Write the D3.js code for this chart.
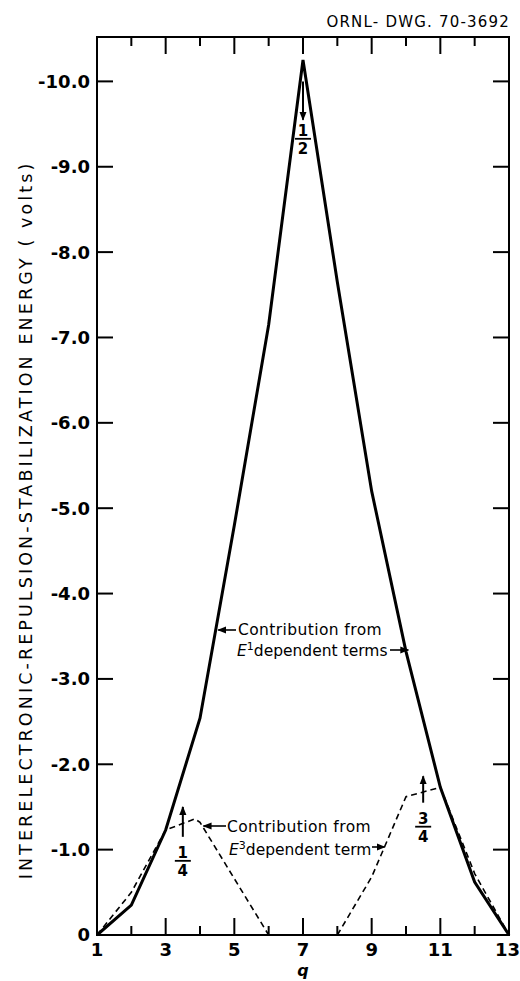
<!DOCTYPE html>
<html>
<head>
<meta charset="utf-8">
<script src="https://cdn.jsdelivr.net/npm/d3@7"></script>
<style>
  html, body { margin: 0; padding: 0; background: #fff; }
  svg { display: block; }
  text { font-family: "DejaVu Sans", "Noto Sans", sans-serif; fill: #000; }
</style>
</head>
<body>
<div id="chart"></div>
<script>
// q values along the horizontal axis
const qValues = [1, 2, 3, 4, 5, 6, 7, 8, 9, 10, 11, 12, 13];
// magnitude of stabilization energy (volts, plotted as negative) from E^1 dependent terms
const e1Terms = [0, 0.35, 1.23, 2.54, 4.8, 7.15, 10.25, 7.65, 5.2, 3.32, 1.73, 0.62, 0];
// contribution from the E^3 dependent term (null = gap between q = 6 and q = 8)
const e3Q = [1, 2, 3, 3.85, 4, 6, 7, 8, 9, 10, 11, 12, 13];
const e3Terms = [0, 0.5, 1.23, 1.36, 1.32, 0, null, 0, 0.68, 1.62, 1.73, 0.72, 0];
// axis ticks
const xTickLabels = [1, 3, 5, 7, 9, 11, 13];
const yTickValues = [0, 1, 2, 3, 4, 5, 6, 7, 8, 9, 10];
const yTickLabels = ["0", "-1.0", "-2.0", "-3.0", "-4.0", "-5.0", "-6.0", "-7.0", "-8.0", "-9.0", "-10.0"];
// fractional-occupation markers: q position, arrow tail and head (volts), fraction
const markQ = [3.5, 7, 10.5];
const markTail = [1.15, 10.0, 1.55];
const markHead = [1.5, 9.55, 1.86];
const markNum = ["1", "1", "3"];
const markDen = ["4", "2", "4"];

const W = 520, H = 981;
const mLeft = 97, mRight = 509, mTop = 37, mBottom = 935;

const svg = d3.select("#chart").append("svg")
  .attr("width", W).attr("height", H);

const x = d3.scaleLinear().domain([1, 13]).range([mLeft, mRight]);
const y = d3.scaleLinear().domain([0, 10.52]).range([mBottom, mTop]);

// arrowhead marker
const defs = svg.append("defs");
defs.append("marker")
  .attr("id", "head")
  .attr("viewBox", "0 0 10 10")
  .attr("refX", 9).attr("refY", 5)
  .attr("markerWidth", 9).attr("markerHeight", 9)
  .attr("markerUnits", "userSpaceOnUse")
  .attr("orient", "auto")
  .append("path").attr("d", "M0,1 L10,5 L0,9 Z").attr("fill", "#000");

// frame
svg.append("rect")
  .attr("x", mLeft).attr("y", mTop)
  .attr("width", mRight - mLeft).attr("height", mBottom - mTop)
  .attr("fill", "none").attr("stroke", "#000").attr("stroke-width", 2);

// inward ticks on all four sides
const g = svg.append("g").attr("stroke", "#000").attr("stroke-width", 2);
qValues.slice(1, -1).forEach(q => {
  const long = q % 2 === 1;
  g.append("line").attr("x1", x(q)).attr("x2", x(q))
    .attr("y1", mBottom).attr("y2", mBottom - (long ? 17 : 9));
  g.append("line").attr("x1", x(q)).attr("x2", x(q))
    .attr("y1", mTop).attr("y2", mTop + (long ? 17 : 9));
});
yTickValues.slice(1).forEach(v => {
  g.append("line").attr("x1", mLeft).attr("x2", mLeft + 16)
    .attr("y1", y(v)).attr("y2", y(v));
  g.append("line").attr("x1", mRight).attr("x2", mRight - 16)
    .attr("y1", y(v)).attr("y2", y(v));
});

// tick labels
svg.append("g").selectAll("text").data(yTickValues).join("text")
  .attr("x", mLeft - 7).attr("y", v => y(v))
  .attr("dy", "0.36em").attr("text-anchor", "end")
  .attr("font-size", 18).attr("font-weight", "bold")
  .text((v, i) => yTickLabels[i]);

svg.append("g").selectAll("text").data(xTickLabels).join("text")
  .attr("x", q => x(q)).attr("y", 956)
  .attr("dx", q => q === 13 ? -1.5 : 0)
  .attr("text-anchor", "middle")
  .attr("font-family", "'Liberation Sans', Arial, sans-serif")
  .attr("font-size", 18).attr("font-weight", "bold")
  .text(q => q);

// axis titles
svg.append("text")
  .attr("x", x(7)).attr("y", 976)
  .attr("text-anchor", "middle")
  .attr("font-size", 16).attr("font-weight", "bold").attr("font-style", "italic")
  .text("q");

svg.append("text")
  .attr("transform", `translate(32,${(mTop + mBottom) / 2 + 34}) rotate(-90)`)
  .attr("text-anchor", "middle")
  .attr("font-size", 17.5).attr("letter-spacing", 3.1)
  .text("INTERELECTRONIC-REPULSION-STABILIZATION ENERGY  ( volts)");

svg.append("text")
  .attr("x", 510).attr("y", 27)
  .attr("text-anchor", "end")
  .attr("font-size", 15).attr("letter-spacing", 1.2)
  .text("ORNL- DWG. 70-3692");

// curves
const line = d3.line()
  .defined(d => d[1] != null)
  .x(d => x(d[0])).y(d => y(d[1]));

svg.append("path")
  .datum(qValues.map((q, i) => [q, e1Terms[i]]))
  .attr("d", line)
  .attr("fill", "none").attr("stroke", "#000")
  .attr("stroke-width", 3).attr("stroke-linejoin", "miter");

svg.append("path")
  .datum(e3Q.map((q, i) => [q, e3Terms[i]]))
  .attr("d", line)
  .attr("fill", "none").attr("stroke", "#000")
  .attr("stroke-width", 1.6).attr("stroke-dasharray", "6,4");

// fraction markers
markQ.forEach((q, i) => {
  const up = markHead[i] > markTail[i];
  svg.append("line")
    .attr("x1", x(q)).attr("x2", x(q))
    .attr("y1", y(markTail[i])).attr("y2", y(markHead[i]))
    .attr("stroke", "#000").attr("stroke-width", 2)
    .attr("marker-end", "url(#head)");
  const cy = up ? y(markTail[i]) + 24 : y(markHead[i]) + 19;
  const fg = svg.append("g").attr("transform", `translate(${x(q)},${cy})`);
  fg.append("text").attr("y", -3).attr("text-anchor", "middle")
    .attr("font-size", 15).attr("font-weight", "bold").text(markNum[i]);
  fg.append("line").attr("x1", -8).attr("x2", 8).attr("y1", 0).attr("y2", 0)
    .attr("stroke", "#000").attr("stroke-width", 1.8);
  fg.append("text").attr("y", 15).attr("text-anchor", "middle")
    .attr("font-size", 15).attr("font-weight", "bold").text(markDen[i]);
});

// curve labels with pointer arrows
function pointer(x1, y1, x2, y2) {
  svg.append("line")
    .attr("x1", x1).attr("y1", y1).attr("x2", x2).attr("y2", y2)
    .attr("stroke", "#000").attr("stroke-width", 1.6)
    .attr("marker-end", "url(#head)");
}
function label(xp, yp, spacing, parts) {
  const t = svg.append("text").attr("x", xp).attr("y", yp)
    .attr("font-size", 15.5).attr("letter-spacing", spacing);
  parts.forEach(p => {
    const s = t.append("tspan").text(p.t);
    if (p.i) s.attr("font-style", "italic");
    if (p.sup) s.attr("baseline-shift", "super").attr("font-size", 11);
  });
  return t;
}

// E^1 label
label(238, 635, 0.4, [{t: "Contribution from"}]);
label(237, 656, 0, [{t: "E", i: true}, {t: "1", sup: true}, {t: "dependent terms"}]);
pointer(236, 630, x(4.53), 630);
pointer(390, 650, x(10.07), 650);

// E^3 label
label(227, 832, 0.4, [{t: "Contribution from"}]);
label(229, 855, 0, [{t: "E", i: true}, {t: "3", sup: true}, {t: "dependent term"}]);
pointer(226, 826, x(4.1), 826);
pointer(372, 847, x(9.38), 847);
</script>
</body>
</html>
